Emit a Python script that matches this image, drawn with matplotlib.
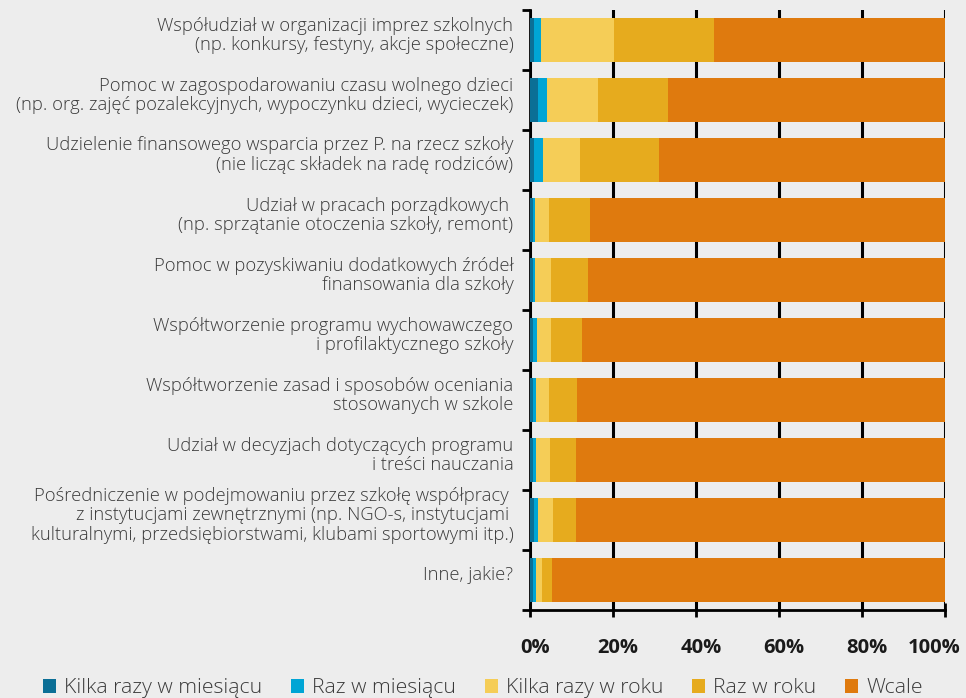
import matplotlib
matplotlib.use('Agg')
import matplotlib.pyplot as plt
import matplotlib.transforms as mtransforms
from matplotlib import font_manager
from matplotlib.patches import Patch
import numpy as np

# Chart data (percent of respondents)
categories = [
    "Współudział w organizacji imprez szkolnych\n(np. konkursy, festyny, akcje społeczne)",
    "Pomoc w zagospodarowaniu czasu wolnego dzieci\n(np. org. zajęć pozalekcyjnych, wypoczynku dzieci, wycieczek)",
    "Udzielenie finansowego wsparcia przez P. na rzecz szkoły\n(nie licząc składek na radę rodziców)",
    "Udział w pracach porządkowych \n(np. sprzątanie otoczenia szkoły, remont)",
    "Pomoc w pozyskiwaniu dodatkowych źródeł\nfinansowania dla szkoły",
    "Współtworzenie programu wychowawczego\ni profilaktycznego szkoły",
    "Współtworzenie zasad i sposobów oceniania\nstosowanych w szkole",
    "Udział w decyzjach dotyczących programu\ni treści nauczania",
    "Pośredniczenie w podejmowaniu przez szkołę współpracy \nz instytucjami zewnętrznymi (np. NGO-s, instytucjami \nkulturalnymi, przedsiębiorstwami, klubami sportowymi itp.)",
    "Inne, jakie?",
]
series_names = ["Kilka razy w miesiącu", "Raz w miesiącu", "Kilka razy w roku", "Raz w roku", "Wcale"]
kilka_miesiac = [1.0, 1.9, 1.0, 0.7, 0.7, 0.7, 0.7, 0.7, 1.0, 0.7]
raz_miesiac   = [1.7, 2.2, 2.1, 0.5, 0.5, 1.0, 0.7, 0.7, 0.9, 0.7]
kilka_rok     = [17.6, 12.3, 8.9, 3.4, 3.9, 3.4, 3.2, 3.4, 3.6, 1.5]
raz_rok       = [24.1, 16.9, 19.1, 9.9, 8.9, 7.4, 6.7, 6.3, 5.6, 2.4]
wcale         = [55.6, 66.7, 68.9, 85.5, 86.0, 87.5, 88.7, 88.9, 88.9, 94.7]
xticks = [0, 20, 40, 60, 80, 100]
xtick_labels = ["0%", "20%", "40%", "60%", "80%", "100%"]

colors = ["#0b6f96", "#00a5d5", "#f5cd57", "#e6ab1e", "#df7a0e"]
bg = "#ededed"

names = {f.name for f in font_manager.fontManager.ttflist}
font = 'Liberation Sans Narrow' if 'Liberation Sans Narrow' in names else 'Open Sans'
plt.rcParams['font.family'] = [font, 'DejaVu Sans']

fig = plt.figure(figsize=(9.66, 6.98), dpi=100, facecolor=bg)
ax = fig.add_axes([530 / 966, 1 - 610 / 698, 415 / 966, 600 / 698])
ax.set_facecolor(bg)

y = np.arange(len(categories))
left = np.zeros(len(categories))
for vals, name, c in zip([kilka_miesiac, raz_miesiac, kilka_rok, raz_rok, wcale], series_names, colors):
    ax.barh(y, vals, left=left, height=0.733, color=c, label=name, zorder=3)
    left += np.array(vals)

ax.set_xlim(0, 100)
ax.set_ylim(len(categories) - 0.5, -0.5)

# vertical gridlines
ax.set_xticks(xticks)
ax.set_xticklabels(xtick_labels, fontsize=14.5, fontweight='bold', color='#1a1a1a')
ax.grid(axis='x', color='black', linewidth=2.2, zorder=0)
ax.set_axisbelow(True)
ax.tick_params(axis='x', direction='inout', length=10, width=2, pad=15)
shift = mtransforms.ScaledTranslation(0.05, 0, fig.dpi_scale_trans)
for t in ax.get_xticklabels()[:-1]:
    t.set_transform(t.get_transform() + shift)
last = ax.get_xticklabels()[-1]
last.set_ha('right')
last.set_transform(last.get_transform() + mtransforms.ScaledTranslation(0.16, 0, fig.dpi_scale_trans))

# category boundaries as ticks on the left, labels placed as text
ax.set_yticks(np.arange(-0.5, len(categories) + 0.5, 1))
ax.set_yticklabels([])
ax.tick_params(axis='y', direction='out', length=6, width=2)
for i, lab in enumerate(categories):
    ax.text(-0.04, i - 0.08, lab, transform=ax.get_yaxis_transform(), ha='right', va='center',
            fontsize=13.2, fontweight='light', color='#3a3a3a', linespacing=1.1)

for s in ['top', 'right']:
    ax.spines[s].set_visible(False)
for s in ['left', 'bottom']:
    ax.spines[s].set_linewidth(2)
    ax.spines[s].set_color('black')

handles = [Patch(facecolor=c, edgecolor='none') for c in colors]
fig.legend(handles, series_names, loc='lower center', bbox_to_anchor=(0.5, -0.022), ncol=5,
           frameon=False, prop={'size': 15.3, 'weight': 'light'}, handlelength=0.6, handleheight=0.6,
           handletextpad=0.4, columnspacing=1.35, labelcolor='#3a3a3a', borderpad=0.2)

fig.savefig('out.png', dpi=100, facecolor=bg)
